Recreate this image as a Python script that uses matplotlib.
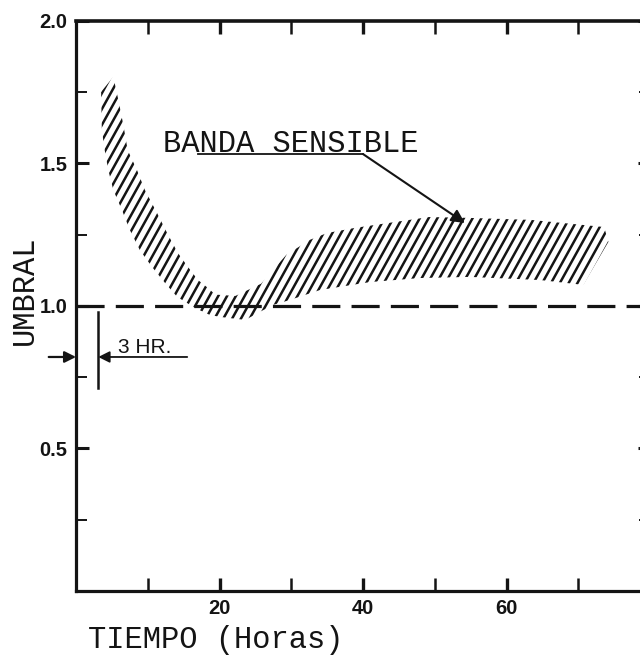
import numpy as np
import matplotlib
matplotlib.use("Agg")
import matplotlib.pyplot as plt
from matplotlib.collections import LineCollection
from matplotlib.patches import Polygon
from matplotlib.font_manager import FontProperties

# ---- data ----
# upper / right edge of the sensitive band (hours, threshold)
upper_x = [5.2, 5.9, 6.6, 7.2, 8.5, 9.6, 11.3, 12.7, 14.2, 15.6, 17.0, 18.4,
           19.4, 22.2, 25.8, 29.3, 32.6, 35.0, 38.9, 43.5, 49.2, 54.8, 63.4,
           73.6, 74.2]
upper_y = [1.804, 1.723, 1.635, 1.547, 1.477, 1.407, 1.326, 1.256, 1.186,
           1.137, 1.091, 1.063, 1.040, 1.035, 1.078, 1.179, 1.232, 1.256,
           1.274, 1.291, 1.312, 1.309, 1.302, 1.277, 1.225]
# lower / left edge of the sensitive band
lower_x = [3.5, 3.6, 4.0, 4.5, 5.2, 6.4, 7.5, 8.9, 10.6, 12.4, 14.1, 16.6,
           18.7, 20.3, 23.6, 25.6, 27.5, 29.8, 34.0, 41.0, 47.9, 54.9, 64.7,
           70.7]
lower_y = [1.751, 1.618, 1.547, 1.477, 1.407, 1.337, 1.267, 1.196, 1.137,
           1.081, 1.032, 0.993, 0.968, 0.961, 0.951, 0.979, 1.004, 1.021,
           1.056, 1.084, 1.098, 1.102, 1.091, 1.074]

x_major = [20, 40, 60]
x_major_labels = ["20", "40", "60"]
x_minor = [10, 30, 50, 70]
y_major = [0.5, 1.0, 1.5, 2.0]
y_major_labels = ["0.5", "1.0", "1.5", "2.0"]
y_minor = [0.25, 0.75, 1.25, 1.75]
threshold = 1.0
lag_hours = 3

INK = "#141414"
mono = FontProperties(family="Liberation Mono", size=22)

fig = plt.figure(figsize=(6.4, 6.57), dpi=100)
fig.patch.set_facecolor("white")
ax = fig.add_axes([0.11875, 0.1005, 0.8969, 0.8676])
ax.set_xlim(0, 80)
ax.set_ylim(0, 2.0)

for side in ["left", "bottom", "top", "right"]:
    ax.spines[side].set_color(INK)
    ax.spines[side].set_linewidth(2.3)
ax.spines["top"].set_linewidth(2.6)

ax.set_xticks(x_major)
ax.set_xticklabels(x_major_labels)
ax.set_xticks(x_minor, minor=True)
ax.set_yticks(y_major)
ax.set_yticklabels(y_major_labels)
ax.set_yticks(y_minor, minor=True)

ax.tick_params(axis="x", which="major", direction="in", length=9.5, width=2.4,
               top=True, pad=6.0, labelsize=14.5, colors=INK)
ax.tick_params(axis="x", which="minor", direction="in", length=9.5, width=1.8,
               top=True, colors=INK)
ax.tick_params(axis="y", which="major", direction="in", length=9, width=2.2,
               right=True, pad=6.0, labelsize=14.5, colors=INK)
ax.tick_params(axis="y", which="minor", direction="in", length=8, width=1.4,
               right=True, colors=INK)
for lab in ax.get_xticklabels() + ax.get_yticklabels():
    lab.set_fontfamily("Liberation Sans")
    lab.set_fontweight("bold")

# ---- hatched band ----
band = np.column_stack([np.r_[upper_x, lower_x[::-1]],
                        np.r_[upper_y, lower_y[::-1]]])
poly = Polygon(band, closed=True, facecolor="none", edgecolor="none",
               transform=ax.transData)
ax.add_patch(poly)

fig.canvas.draw()
p0 = ax.transData.transform((0, 0))
p1 = ax.transData.transform((1, 1))
px_per_h = p1[0] - p0[0]
px_per_u = p1[1] - p0[1]
slope = np.tan(np.radians(61)) * px_per_h / px_per_u  # data slope of strokes
spacing = 8.8 / px_per_h
y_a, y_b = 0.8, 2.0
segs = []
for c in np.arange(-30, 85, spacing):
    segs.append([(c + (y_a - 1) / slope, y_a), (c + (y_b - 1) / slope, y_b)])
lc = LineCollection(segs, colors=INK, linewidths=1.8, capstyle="butt")
ax.add_collection(lc)
lc.set_clip_path(poly)

# threshold dashed line
ax.axhline(threshold, color=INK, lw=2.3, dashes=(8.8, 3.5), zorder=3)

# ---- annotations ----
ax.text(12.1, 1.540, "BANDA SENSIBLE", fontproperties=mono,
        color=INK, va="baseline", ha="left")
ax.plot([17.0, 40.0], [1.533, 1.533], color=INK, lw=1.3)
ax.annotate("", xy=(54.2, 1.291), xytext=(40.0, 1.533),
            arrowprops=dict(arrowstyle="-|>", color=INK, lw=1.5,
                            mutation_scale=20, shrinkA=0, shrinkB=0))

ax.plot([lag_hours, lag_hours], [0.712, 0.979], color=INK, lw=1.8)
ax.annotate("", xy=(0, 0.821), xytext=(-3.8, 0.821), annotation_clip=False,
            arrowprops=dict(arrowstyle="-|>", color=INK, lw=1.6,
                            mutation_scale=17, shrinkA=0, shrinkB=0))
ax.annotate("", xy=(lag_hours + 0.1, 0.821), xytext=(15.5, 0.821),
            annotation_clip=False,
            arrowprops=dict(arrowstyle="-|>", color=INK, lw=1.3,
                            mutation_scale=17, shrinkA=0, shrinkB=0))
ax.text(5.85, 0.835, "3 HR.", family="Liberation Sans", fontsize=15,
        color=INK, va="baseline", ha="left")

ax.set_xlabel("TIEMPO (Horas)", fontproperties=mono,
              color=INK, ha="left", va="baseline")
ax.xaxis.set_label_coords(0.0209, -0.100)
ax.set_ylabel("UMBRAL", fontproperties=mono,
              color=INK, ha="center", va="center")
ax.yaxis.set_label_coords(-0.089, 0.527)

fig.savefig("out.png", dpi=100, facecolor="white")
